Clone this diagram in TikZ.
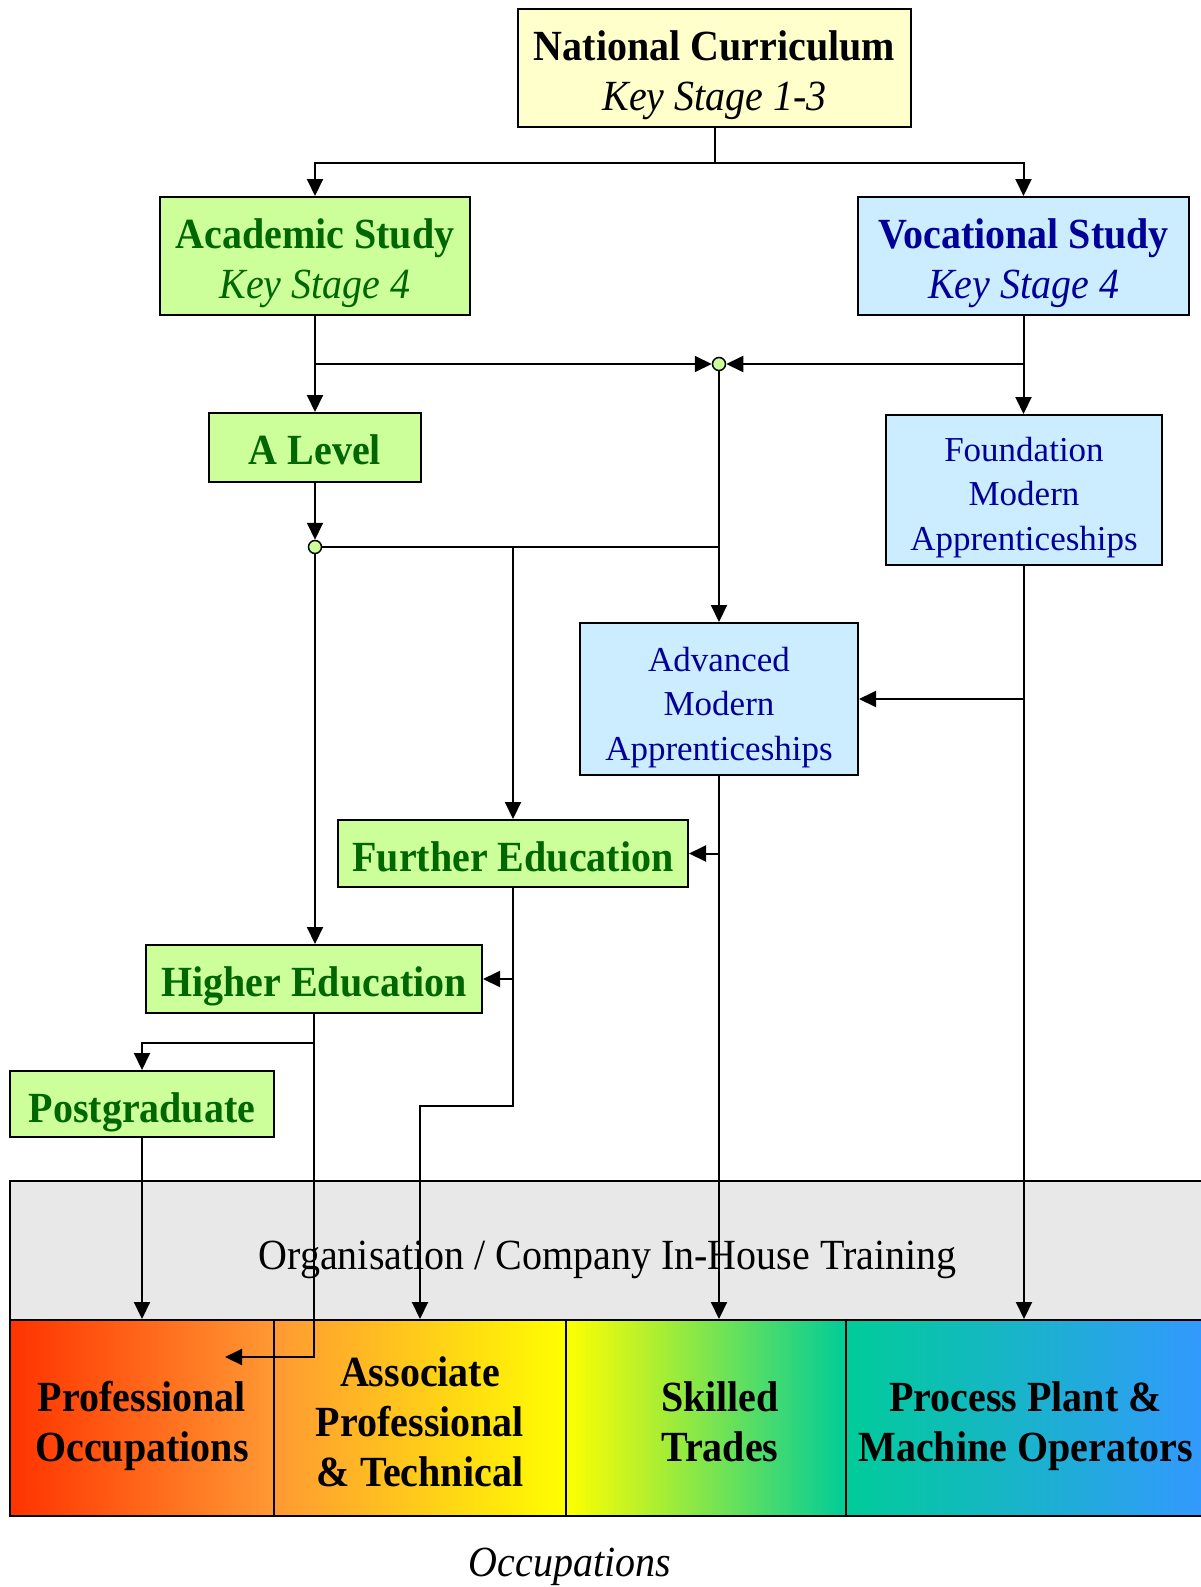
\documentclass[tikz,border=0pt]{standalone}
\usepackage{fontspec}
\setmainfont{Liberation Serif}[FakeStretch=0.93]
\newfontfamily\mafont{Liberation Serif}
\usetikzlibrary{arrows.meta}
\definecolor{ncfill}{HTML}{FFFFCC}
\definecolor{gfill}{HTML}{CCFF99}
\definecolor{gtext}{HTML}{006600}
\definecolor{bfill}{HTML}{CCECFF}
\definecolor{btext}{HTML}{000099}
\definecolor{orgfill}{HTML}{E8E8E8}
\definecolor{occA}{HTML}{FF3300}
\definecolor{occB}{HTML}{FF9933}
\definecolor{occC}{HTML}{FFFF00}
\definecolor{occD}{HTML}{00CC99}
\definecolor{occE}{HTML}{3399FF}
\newcommand\lowerby[1]{\rule{0pt}{\dimexpr0.7em+#1+#1\relax}}
\begin{document}
\begin{tikzpicture}[x=1pt,y=-1pt,
  box/.style={draw=black, line width=2pt, inner sep=0pt, align=center},
  bigfont/.style={font=\fontsize{43}{50}\selectfont},
  dn/.style={execute at begin node={\rule{0pt}{\dimexpr0.7em+#1+#1\relax}}},
  ncbox/.style={box, fill=ncfill, bigfont},
  gbox/.style={box, fill=gfill, text=gtext, bigfont},
  bbox/.style={box, fill=bfill, text=btext, bigfont},
  mabox/.style={box, fill=bfill, text=btext, font=\mafont\fontsize{35}{44.5}\selectfont},
  cell/.style={draw=black, line width=2pt, inner sep=0pt, minimum height=196pt, align=center, font=\bfseries\fontsize{43}{50}\selectfont},
  jn/.style={circle, draw=black, fill=gfill, line width=1.5pt, inner sep=0pt, minimum size=13pt},
  ln/.style={line width=2pt},
  arr/.style={line width=2pt, -{Triangle[length=17pt,width=16pt]}}
]
\useasboundingbox (0,0) rectangle (1201,1587);

% training and occupation bars
\node[box, fill=orgfill, minimum width=1195pt, minimum height=139pt, bigfont, dn=9pt] (org) at (607.5,1250.5) {Organisation / Company In-House Training};
\node[cell, left color=occA, right color=occB, minimum width=264pt] (prof) at (142,1418) {\lowerby{8pt}Professional\\Occupations};
\node[cell, left color=occB, right color=occC, minimum width=292pt] (assoc) at (420,1418) {\lowerby{4pt}Associate\\Professional\\\& Technical};
\node[cell, left color=occC, right color=occD, minimum width=280pt] (skl) at (706,1418) {};
\node[cell, left color=occD, right color=occE, minimum width=359pt] (proc) at (1025.5,1418) {\lowerby{8pt}Process Plant \&\\Machine Operators};
\node[align=center, inner sep=0pt, font=\bfseries\fontsize{43}{50}\selectfont] (sklt) at (720,1418) {\lowerby{4pt}Skilled\\Trades};
\node[inner sep=0pt, font=\itshape\fontsize{43}{50}\selectfont] (occ) at (570,1567) {Occupations};

% boxes
\node[ncbox, minimum width=393pt, minimum height=118pt] (nc) at (714.5,68) {\lowerby{7.5pt}\textbf{National Curriculum}\\\textit{Key Stage 1-3}};
\node[gbox, minimum width=310pt, minimum height=118pt] (as) at (315,256) {\lowerby{7pt}\textbf{Academic Study}\\\textit{Key Stage 4}};
\node[bbox, minimum width=331pt, minimum height=118pt] (vs) at (1023.5,256) {\lowerby{7pt}\textbf{Vocational Study}\\\textit{Key Stage 4}};
\node[gbox, minimum width=212pt, minimum height=69pt, font=\bfseries\fontsize{43}{50}\selectfont, dn=2pt] (al) at (315,447.5) {A Level};
\node[mabox, minimum width=276pt, minimum height=150pt] (fma) at (1024,490) {\lowerby{7pt}Foundation\\Modern\\Apprenticeships};
\node[mabox, minimum width=278pt, minimum height=152pt] (ama) at (719,699) {\lowerby{8pt}Advanced\\Modern\\Apprenticeships};
\node[gbox, minimum width=350pt, minimum height=67pt, font=\bfseries\fontsize{43}{50}\selectfont, dn=3pt] (fe) at (513,853.5) {Further Education};
\node[gbox, minimum width=336pt, minimum height=68pt, font=\bfseries\fontsize{43}{50}\selectfont, dn=7pt] (he) at (314,979) {Higher Education};
\node[gbox, minimum width=264pt, minimum height=66pt, font=\bfseries\fontsize{43}{50}\selectfont, dn=8pt] (pg) at (142,1104) {Postgraduate};

% junctions
\node[jn] (j1) at (719,364) {};
\node[jn] (j2) at (315,547) {};

% connectors
\draw[ln] (nc.south) -- ++(0,35) coordinate (c1);
\draw[arr] (c1) -| (as.north);
\draw[arr] (c1) -| (vs.north);

\draw[arr] (as.south) -- (al.north);
\draw[arr] (as.south |- j1) -- (j1);
\draw[arr] (vs.south) -- (vs.south |- fma.north);
\draw[arr] (vs.south |- j1) -- (j1);
\draw[arr] (j1) -- (j1 |- ama.north);

\draw[arr] (al.south) -- (j2);
\draw[ln] (j2) -- (j1 |- j2);
\draw[arr] (fe.north |- j2) -- (fe.north);
\draw[arr] (j2) -- (j2 |- he.north);

\draw[arr] (fma.south) -- (fma.south |- proc.north);
\draw[arr] (fma.south |- ama.east) -- (ama.east);
\draw[arr] (ama.south) -- (ama.south |- skl.north);
\draw[arr] (ama.south |- fe.east) -- (fe.east);

\draw[arr] (fe.south) -- ++(0,218) -| (assoc.north);
\draw[arr] (fe.south |- he.east) -- (he.east);

\coordinate (pt) at (225,1357);
\draw[arr] (he.south) |- (pt);
\draw[arr] (he.south) -- ++(0,29) -| (pg.north);
\draw[arr] (pg.south) -- (prof.north);
\end{tikzpicture}
\end{document}
